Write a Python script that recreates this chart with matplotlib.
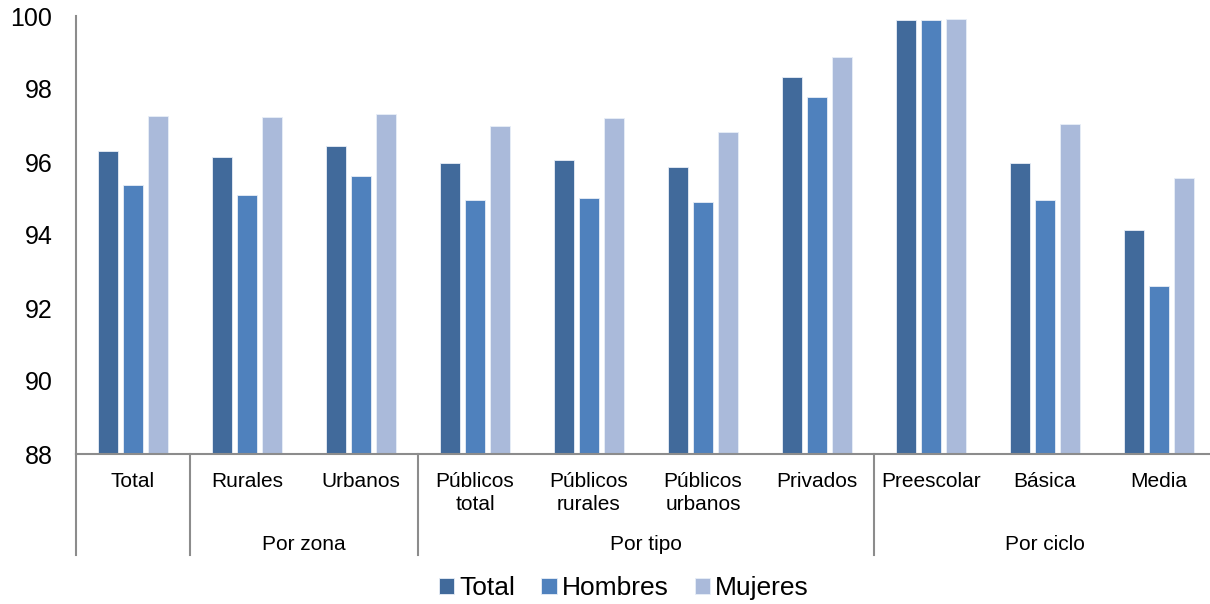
import matplotlib
matplotlib.use("Agg")
import matplotlib.pyplot as plt
import matplotlib.transforms as mtransforms
import numpy as np

plt.rcParams['font.family'] = ['Liberation Sans', 'DejaVu Sans']

categories = ["Total", "Rurales", "Urbanos", "Públicos\ntotal", "Públicos\nrurales",
              "Públicos\nurbanos", "Privados", "Preescolar", "Básica", "Media"]
groups = ["", "Por zona", "Por tipo", "Por ciclo"]
group_sizes = [1, 2, 4, 3]

total = [96.30, 96.13, 96.45, 95.96, 96.06, 95.85, 98.32, 99.89, 95.96, 94.13]
hombres = [95.37, 95.10, 95.61, 94.96, 95.02, 94.90, 97.79, 99.88, 94.95, 92.60]
mujeres = [97.27, 97.23, 97.32, 97.00, 97.20, 96.82, 98.87, 99.93, 97.05, 95.55]

series = [("Total", total, "#416A9B"), ("Hombres", hombres, "#4F81BD"), ("Mujeres", mujeres, "#AABADA")]

W, H = 1210, 604
fig = plt.figure(figsize=(W / 100, H / 100), dpi=100)
ax_left, ax_right, ax_top, ax_bot = 76, 1216, 16, 454
ax = fig.add_axes([ax_left / W, 1 - ax_bot / H, (ax_right - ax_left) / W, (ax_bot - ax_top) / H])

x = np.arange(len(categories))
bw = 0.178
step = 0.222
for i, (name, vals, col) in enumerate(series):
    ax.bar(x + (i - 1) * step, np.array(vals) - 88, bottom=88, width=bw, color=col,
           edgecolor="#E8EEF7", linewidth=0.6, label=name, zorder=2)

ax.set_xlim(-0.5, len(categories) - 0.5)
ax.set_ylim(88, 100)
ax.set_yticks(np.arange(88, 101, 2))
ax.tick_params(axis='y', length=0, pad=17, labelsize=18)
ax.set_xticks(x)
ax.set_xticklabels(categories, fontsize=15, linespacing=1.25)
ax.tick_params(axis='x', length=0, pad=13)

for s in ["top", "right"]:
    ax.spines[s].set_visible(False)
for s in ["left", "bottom"]:
    ax.spines[s].set_color("#8C8C8C")
    ax.spines[s].set_linewidth(1.5)

trans = mtransforms.blended_transform_factory(ax.transData, ax.transAxes)
bounds = np.concatenate([[0], np.cumsum(group_sizes)]) - 0.5
line_bottom = -(555 - ax_bot) / (ax_bot - ax_top)
for b in bounds:
    ax.plot([b, b], [0, line_bottom], transform=trans, color="#8C8C8C", lw=1.5, clip_on=False)
group_y = -(544 - ax_bot) / (ax_bot - ax_top)
for g, lo, hi in zip(groups, bounds[:-1], bounds[1:]):
    if g:
        ax.text((lo + hi) / 2, group_y, g, transform=trans, ha='center', va='center', fontsize=15)

handles, labels = ax.get_legend_handles_labels()
fig.legend(handles, labels, loc='center', bbox_to_anchor=(624 / W, 1 - 588 / H), ncol=3,
           frameon=False, fontsize=19, handlelength=0.57, handleheight=0.57,
           handletextpad=0.2, columnspacing=1.0, borderaxespad=0, borderpad=0)

fig.savefig("out.png", dpi=100)
